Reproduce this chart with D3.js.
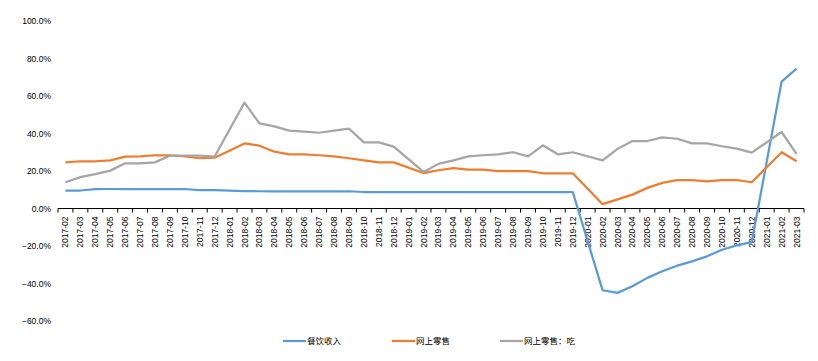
<!DOCTYPE html>
<html>
<head>
<meta charset="utf-8">
<script src="https://cdn.jsdelivr.net/npm/d3@7"></script>
<style>
    body { margin: 0; background: #ffffff; }
    text { font-family: "Liberation Sans", "Noto Sans CJK SC", sans-serif; fill: #000; }
</style>
</head>
<body>
<div id="chart"></div>
<script>
// month labels, 2017-02 .. 2021-03
var months = [];
(function () {
    for (var y = 2017; y <= 2021; y++) {
        for (var m = 1; m <= 12; m++) {
            if ((y === 2017 && m < 2) || (y === 2021 && m > 3)) continue;
            months.push(y + '-' + (m < 10 ? '0' + m : m));
        }
    }
})();

var seriesNames = ['餐饮收入', '网上零售', '网上零售：吃'];
var seriesColors = ['#5B9BD5', '#ED7D31', '#A5A5A5'];
var yTicks = [-60, -40, -20, 0, 20, 40, 60, 80, 100];

// values in %, January is not published (null)
var catering = [
    9.6, 9.6, 10.3, 10.4, 10.4, 10.4, 10.4, 10.4, 10.4, 9.8, 9.8,
    null, 9.3, 9.2, 9.2, 9.2, 9.2, 9.2, 9.2, 9.2, 8.8, 8.8, 8.8,
    null, 8.8, 8.8, 8.8, 8.8, 8.8, 8.8, 8.8, 8.8, 8.8, 8.8, 8.8,
    null, -43.6, -45.0, -41.5, -37.0, -33.5, -30.5, -28.2, -25.5, -22.0, -19.7, -17.9,
    null, 67.7, 74.6
];
var onlineRetail = [
    24.6, 25.2, 25.2, 25.7, 27.7, 27.8, 28.4, 28.4, 27.8, 26.8, 27.1,
    null, 34.7, 33.5, 30.3, 28.9, 28.9, 28.4, 27.8, 26.8, 25.7, 24.6, 24.6,
    null, 18.9, 20.4, 21.5, 20.7, 20.7, 19.9, 19.9, 19.9, 18.8, 18.8, 18.8,
    null, 2.3, 4.9, 7.4, 11.0, 13.7, 15.1, 15.1, 14.5, 15.1, 15.1, 14.0,
    null, 30.0, 25.2
];
var onlineFood = [
    14.0, 16.7, 18.3, 20.2, 24.1, 24.1, 24.6, 28.2, 28.2, 28.2, 27.7,
    null, 56.5, 45.4, 43.8, 41.5, 41.0, 40.4, 41.5, 42.6, 35.3, 35.3, 33.0,
    null, 19.5, 23.8, 25.7, 27.8, 28.4, 28.9, 30.0, 27.8, 33.7, 28.9, 30.0,
    null, 25.7, 31.8, 36.0, 36.0, 37.9, 37.2, 34.7, 34.7, 33.2, 31.9, 29.8,
    null, 40.8, 29.1
];

var ChartView = {};

ChartView.init = function () {
    this.width = 818;
    this.height = 361;
    this.svg = d3.select('#chart').append('svg')
        .attr('width', this.width)
        .attr('height', this.height);

    this.x = d3.scaleBand().domain(months).range([58, 804]).padding(0);
    this.y = d3.scaleLinear().domain([-60, 100]).range([321, 21]);

    this.drawYAxis();
    this.drawXAxis();
    this.drawLines([catering, onlineRetail, onlineFood]);
    this.drawLegend();
};

ChartView.drawYAxis = function () {
    var yAxis = d3.axisLeft(this.y)
        .tickValues(yTicks)
        .tickSize(0)
        .tickPadding(0)
        .tickFormat(function (d) { return d3.format('.1f')(d) + '%'; });
    var g = this.svg.append('g')
        .attr('transform', 'translate(51,0)')
        .call(yAxis);
    g.select('.domain').remove();
    g.selectAll('text').style('font-size', '8.5px').attr('dy', '0.35em');
};

ChartView.drawXAxis = function () {
    var self = this;
    var g = this.svg.append('g')
        .attr('transform', 'translate(0,' + this.y(0) + ')');
    g.append('line')
        .attr('x1', 58).attr('x2', 804)
        .attr('stroke', '#000').attr('stroke-width', 1);
    // tick marks sit between categories
    var bounds = months.map(function (m) { return self.x(m); });
    bounds.push(804);
    g.selectAll('.tick-mark').data(bounds).enter().append('line')
        .attr('class', 'tick-mark')
        .attr('x1', function (d) { return d; })
        .attr('x2', function (d) { return d; })
        .attr('y1', 0).attr('y2', 4)
        .attr('stroke', '#000').attr('stroke-width', 1);
    g.selectAll('.label').data(months).enter().append('text')
        .attr('class', 'label')
        .attr('transform', function (d) {
            return 'translate(' + (self.x(d) + self.x.bandwidth() / 2 + 3) + ',8) rotate(-90)';
        })
        .attr('text-anchor', 'end')
        .style('font-size', '8.5px')
        .text(function (d) { return d; });
};

ChartView.drawLines = function (allSeries) {
    var self = this;
    var line = d3.line()
        .x(function (d) { return self.x(d.month) + self.x.bandwidth() / 2; })
        .y(function (d) { return self.y(d.value); });

    allSeries.forEach(function (values, si) {
        // skip missing months but keep the line joined
        var pts = values.map(function (v, i) {
            return { month: months[i], value: v };
        }).filter(function (d) { return d.value !== null; });

        self.svg.append('path')
            .datum(pts)
            .attr('fill', 'none')
            .attr('stroke', seriesColors[si])
            .attr('stroke-width', 2.25)
            .attr('stroke-linejoin', 'round')
            .attr('d', line);
    });
};

ChartView.drawLegend = function () {
    var self = this;
    var xs = [283, 392, 500];
    var g = this.svg.append('g');
    seriesNames.forEach(function (name, i) {
        g.append('line')
            .attr('x1', xs[i]).attr('x2', xs[i] + 23)
            .attr('y1', 341).attr('y2', 341)
            .attr('stroke', seriesColors[i]).attr('stroke-width', 2.25);
        g.append('text')
            .attr('x', xs[i] + 24).attr('y', 341)
            .attr('dy', '0.35em')
            .style('font-size', '8.5px')
            .text(name);
    });
};

ChartView.init();
</script>
</body>
</html>
